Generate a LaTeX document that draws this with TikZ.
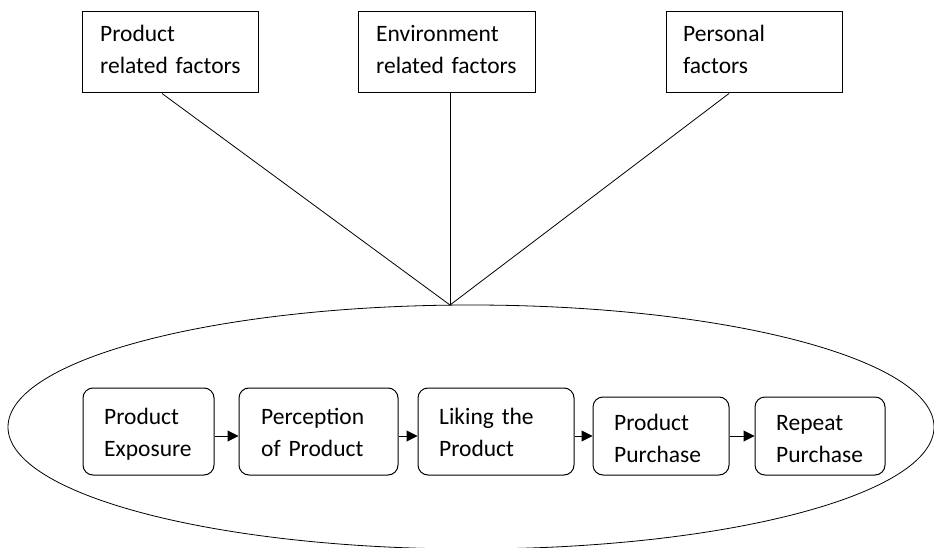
\documentclass[tikz,border=0pt]{standalone}
\usepackage{fontspec}
\setmainfont{Carlito}
\usetikzlibrary{arrows.meta,calc,shapes.geometric}
\begin{document}
\begin{tikzpicture}[x=1pt,y=-1pt,
  factor/.style={draw, line width=1pt, rectangle, inner sep=0pt},
  stage/.style={draw, line width=1pt, rounded corners=10pt, inner sep=0pt},
  lbl/.style={inner sep=0pt, anchor=base west, align=left, text width=170pt,
              font=\fontsize{23.5}{32}\selectfont},
  link/.style={line width=0.8pt},
  flow/.style={line width=1pt, -{Triangle[length=11pt,width=11pt]}}]
\useasboundingbox (0,0) rectangle (934,548);

% influencing factors
\node[factor, minimum width=176pt, minimum height=81pt] (f1) at (170,52.5) {};
\node[factor, minimum width=177pt, minimum height=81pt] (f2) at (446.5,52.5) {};
\node[factor, minimum width=176pt, minimum height=81pt] (f3) at (754,52.5) {};
\node[lbl] (t1) at (100,42) {Product\\related factors};
\node[lbl] (t2) at (376,42) {Environment\\related factors};
\node[lbl] (t3) at (683,42) {Personal\\factors};

% the buying process
\node[draw, ellipse, line width=0.8pt, inner sep=0pt,
      minimum width=926pt, minimum height=244pt] (process) at (471,427) {};
\coordinate (hub) at (450,305);

\draw[link] ($(f1.south)+(-8,0)$) -- (hub);
\draw[link] ($(f2.south)+(3.5,0)$) -- (hub);
\draw[link] ($(f3.south)+(-25,0)$) -- (hub);

\node[stage, minimum width=131pt, minimum height=87pt] (sA) at (148.5,431.5) {};
\node[stage, minimum width=159pt, minimum height=87pt] (sB) at (318.5,431.5) {};
\node[stage, minimum width=156pt, minimum height=87pt] (sC) at (496,431.5) {};
\node[stage, minimum width=136pt, minimum height=78pt] (sD) at (661,436) {};
\node[stage, minimum width=130pt, minimum height=78pt] (sE) at (820,436) {};

\node[lbl] (tA) at (104,424) {Product\\Exposure};
\node[lbl] (tB) at (261,424) {Perception\\of Product};
\node[lbl] (tC) at (439,424) {Liking the\\Product};
\node[lbl] (tD) at (614,430) {Product\\Purchase};
\node[lbl] (tE) at (776,430) {Repeat\\Purchase};

\draw[flow] (sA.east |- sD.center) -- (sB.west |- sD.center);
\draw[flow] (sB.east |- sD.center) -- (sC.west |- sD.center);
\draw[flow] (sC.east |- sD.center) -- (sD.west);
\draw[flow] (sD.east) -- (sE.west);
\end{tikzpicture}
\end{document}
